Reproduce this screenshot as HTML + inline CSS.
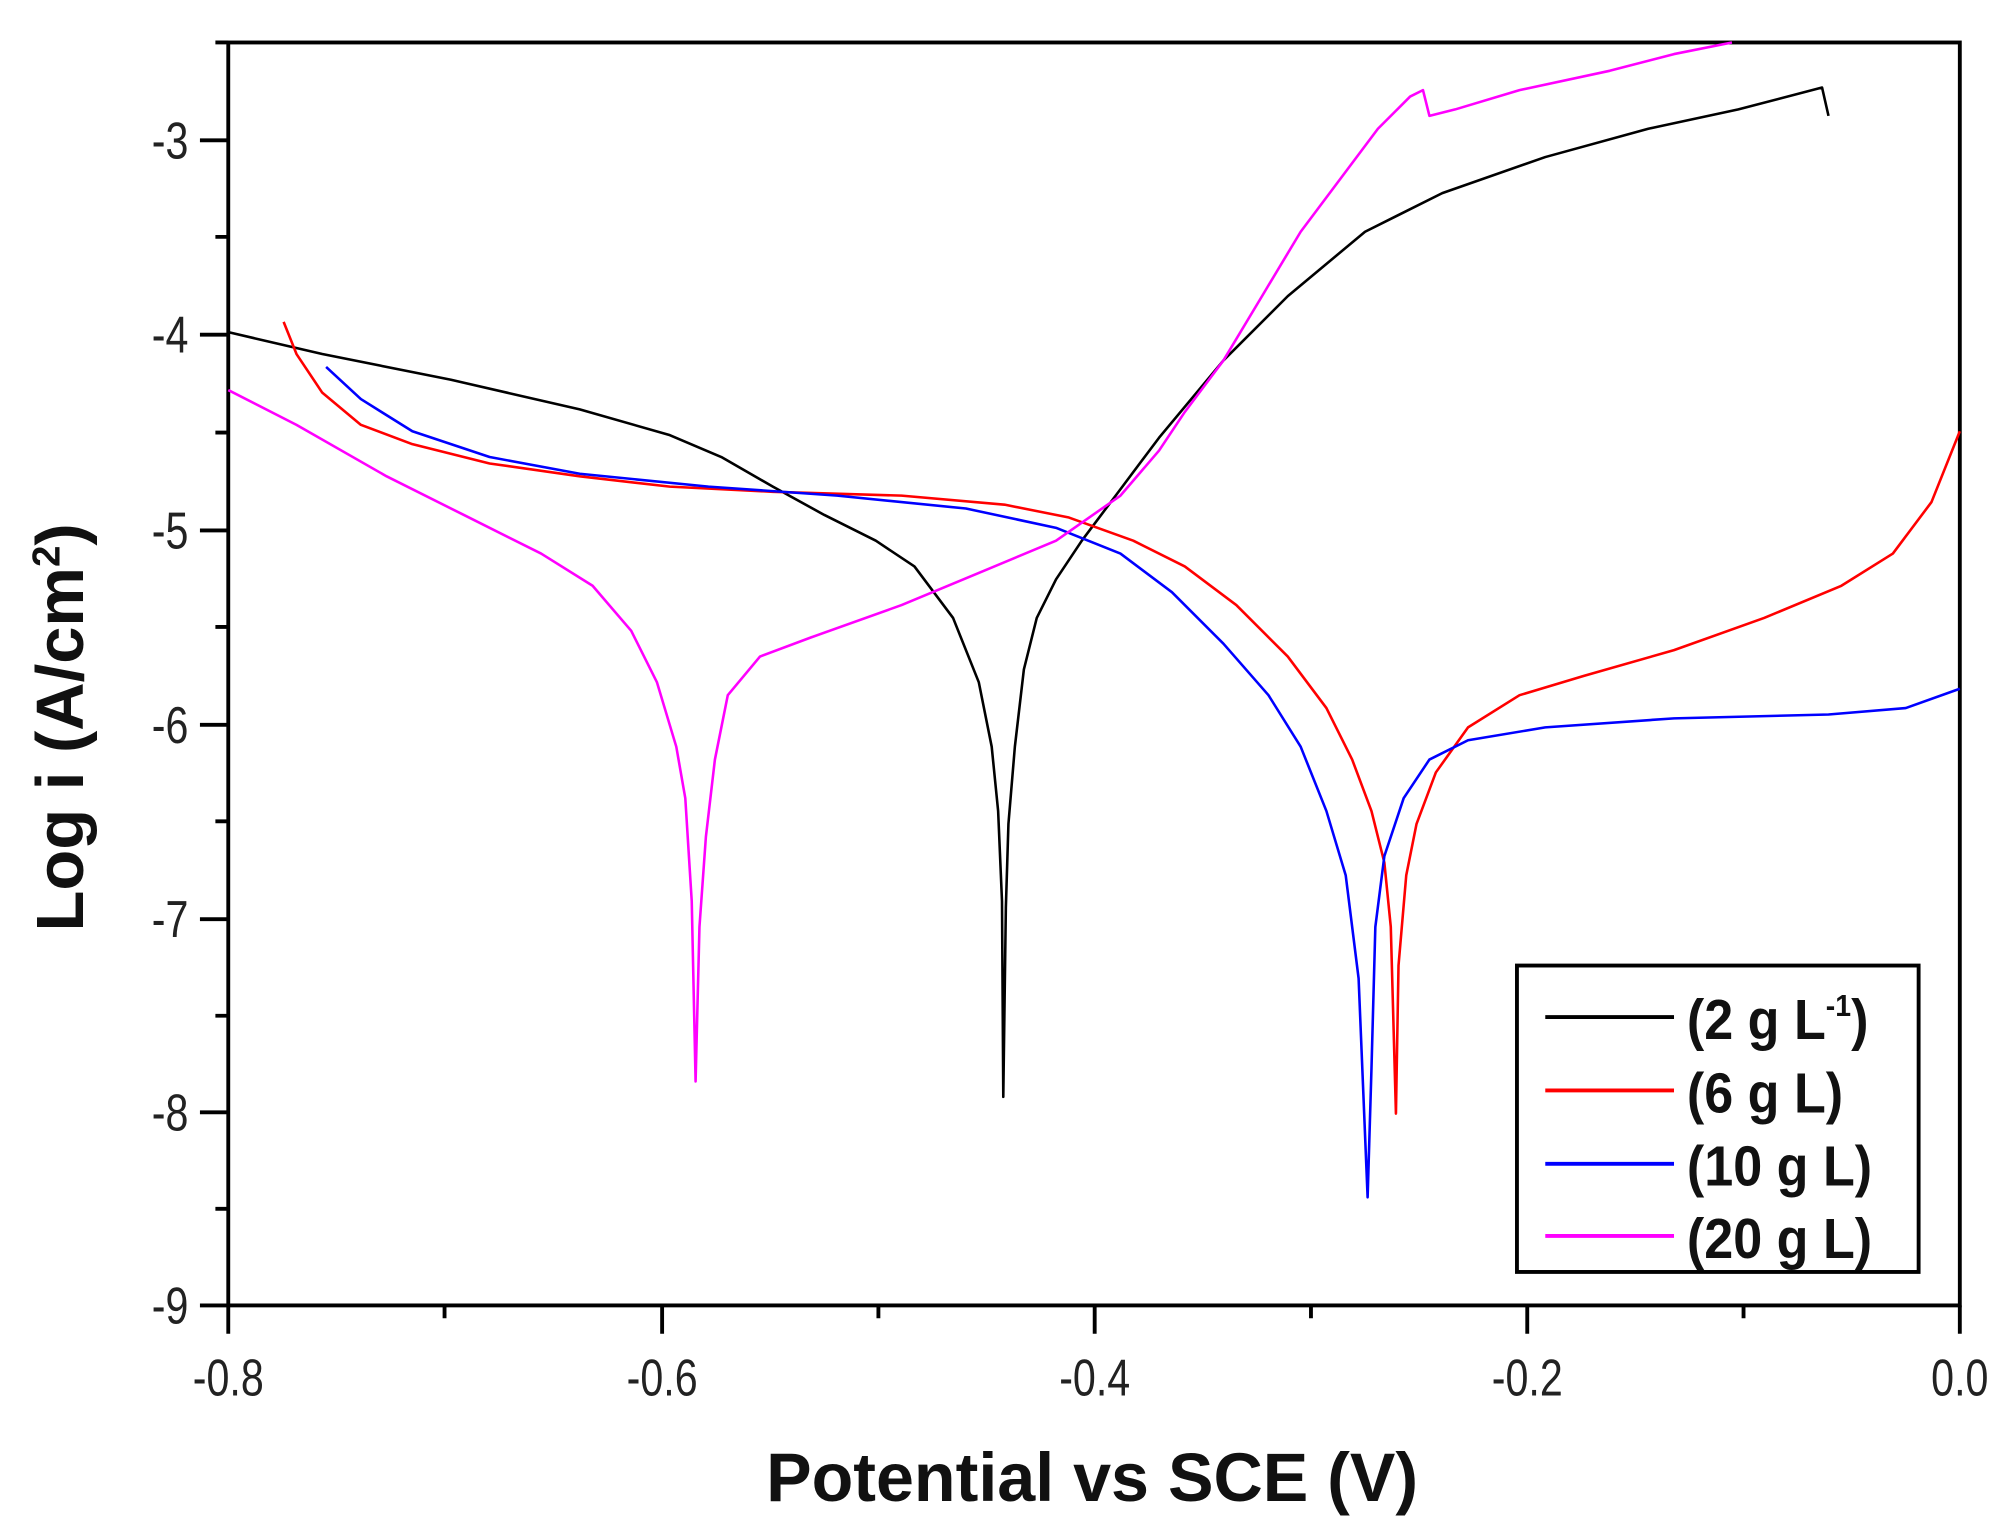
<!DOCTYPE html>
<html><head><meta charset="utf-8"><style>html,body{margin:0;padding:0;background:#fff}svg{display:block}</style></head>
<body>
<svg width="2013" height="1532" viewBox="0 0 1563 1190" xmlns="http://www.w3.org/2000/svg" font-family="Liberation Sans, sans-serif">
<rect width="1563" height="1190" fill="#fff"/>
<g stroke="#000" stroke-width="3" fill="none">
<rect x="177" y="33" width="1345" height="981"/>
<path d="M155 109H177M155 260H177M155 412H177M155 563H177M155 714H177M155 864H177M155 1014H177
M167 33H177M167 184H177M167 336H177M167 487H177M167 638H177M167 789H177M167 939H177
M177 1014V1036M514 1014V1036M850 1014V1036M1186 1014V1036M1522 1014V1036
M345 1014V1024M682 1014V1024M1018 1014V1024M1354 1014V1024"/>
</g>
<g font-size="40" fill="#222" text-anchor="end">
<text transform="translate(146 123) scale(0.8 1)">-3</text>
<text transform="translate(146 274) scale(0.8 1)">-4</text>
<text transform="translate(146 426) scale(0.8 1)">-5</text>
<text transform="translate(146 577) scale(0.8 1)">-6</text>
<text transform="translate(146 728) scale(0.8 1)">-7</text>
<text transform="translate(146 878) scale(0.8 1)">-8</text>
<text transform="translate(146 1028) scale(0.8 1)">-9</text>
</g>
<g font-size="40" fill="#222" text-anchor="middle">
<text transform="translate(177 1084) scale(0.8 1)">-0.8</text>
<text transform="translate(514 1084) scale(0.8 1)">-0.6</text>
<text transform="translate(850 1084) scale(0.8 1)">-0.4</text>
<text transform="translate(1186 1084) scale(0.8 1)">-0.2</text>
<text transform="translate(1522 1084) scale(0.8 1)">0.0</text>
</g>
<text x="848" y="1166" font-size="53" font-weight="bold" text-anchor="middle" fill="#111">Potential vs SCE (V)</text>
<text transform="translate(64 565) rotate(-90)" font-size="52" font-weight="bold" text-anchor="middle" fill="#111">Log i (A/cm<tspan dy="-18" font-size="30">2</tspan><tspan dy="18">)</tspan></text>
<g fill="none" stroke-width="2" stroke-linejoin="round">
<polyline stroke="#000" points="177,258 250,275 350,295 450,318 520,338 560,355 600,378 640,400 680,420 710,440 740,480 760,530 770,580 775,630 778,700 779,852 781,705 783,640 788,580 795,520 805,480 820,450 840,420 870,380 900,340 950,280 1000,230 1060,180 1120,150 1200,122 1280,100 1350,85 1415,68 1420,90"/>
<polyline stroke="#f00" points="220,250 230,275 250,305 280,330 320,345 380,360 450,370 520,378 600,382 700,385 780,392 830,402 880,420 920,440 960,470 1000,510 1030,550 1050,590 1065,630 1075,670 1080,720 1084,865 1086,750 1092,680 1100,640 1115,600 1140,565 1180,540 1230,525 1300,505 1370,480 1430,455 1470,430 1500,390 1522,335"/>
<polyline stroke="#00f" points="253,285 280,310 320,335 380,355 450,368 550,378 650,385 750,395 820,410 870,430 910,460 950,500 985,540 1010,580 1030,630 1045,680 1055,760 1062,930 1065,830 1068,720 1075,665 1090,620 1110,590 1140,575 1200,565 1300,558 1420,555 1480,550 1522,535"/>
<polyline stroke="#f0f" points="177,303 230,330 300,370 360,400 420,430 460,455 490,490 510,530 525,580 532,620 537,700 540,840 543,720 548,650 555,590 565,540 590,510 630,495 700,470 760,445 820,420 870,385 900,350 920,320 950,280 980,230 1010,180 1040,140 1070,100 1095,75 1105,70 1110,90 1130,85 1180,70 1250,55 1300,42 1345,33"/>
</g>
<rect x="1178" y="750" width="312" height="238" fill="#fff" stroke="#000" stroke-width="3"/>
<g stroke-width="3">
<line x1="1200" y1="790" x2="1300" y2="790" stroke="#000"/>
<line x1="1200" y1="847" x2="1300" y2="847" stroke="#f00"/>
<line x1="1200" y1="904" x2="1300" y2="904" stroke="#00f"/>
<line x1="1200" y1="960" x2="1300" y2="960" stroke="#f0f"/>
</g>
<g font-size="44" font-weight="bold" fill="#111">
<text transform="translate(1310 807) scale(0.92 1)">(2 g L<tspan dy="-18" font-size="24">-1</tspan><tspan dy="18">)</tspan></text>
<text transform="translate(1310 864) scale(0.92 1)">(6 g L)</text>
<text transform="translate(1310 921) scale(0.92 1)">(10 g L)</text>
<text transform="translate(1310 977) scale(0.92 1)">(20 g L)</text>
</g>
</svg>
</body></html>
